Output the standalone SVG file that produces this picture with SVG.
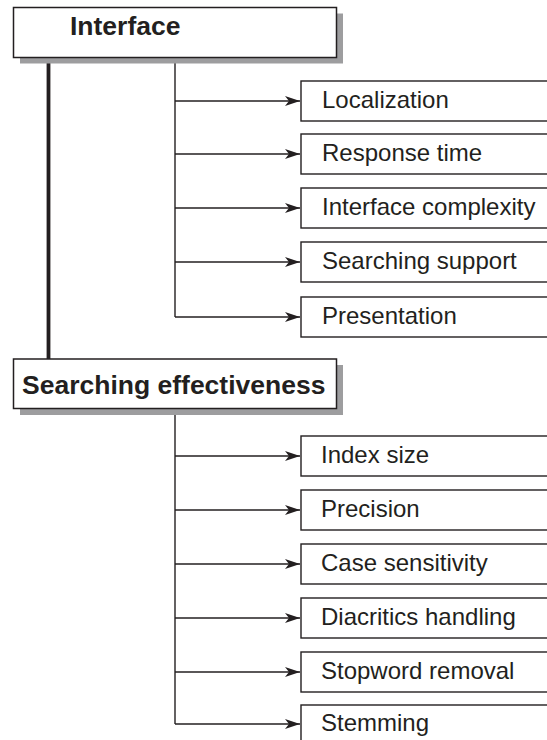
<svg xmlns="http://www.w3.org/2000/svg" width="547" height="740" viewBox="0 0 547 740">
  <style>
    .bg { fill: #ffffff; }
    .main-box { fill: #ffffff; stroke: #231f20; stroke-width: 1.5; }
    .shadow { fill: #9d9d9f; }
    .item-box { fill: #ffffff; stroke: #231f20; stroke-width: 1.4; }
    .main-label { font-family: "Liberation Sans", Arial, sans-serif; font-weight: bold; font-size: 26.5px; fill: #231f20; }
    .item-label { font-family: "Liberation Sans", Arial, sans-serif; font-size: 24px; fill: #231f20; }
    .wire { fill: none; stroke: #231f20; stroke-width: 1.4; }
    .trunk { fill: none; stroke: #231f20; stroke-width: 3.8; }
  </style>
  <defs>
    <marker id="arrow" markerUnits="userSpaceOnUse" markerWidth="18" markerHeight="14" refX="15" refY="6" orient="auto">
      <path d="M0,1 L15,6 L0,11 L4,6 Z" fill="#231f20"/>
    </marker>
  </defs>
  <rect class="bg" x="0" y="0" width="547" height="740"/>

  <!-- connectors -->
  <g id="connectors">
    <line class="trunk" x1="48.5" y1="57" x2="48.5" y2="359"/>
    <path class="wire" d="M175,57 V317"/>
    <line class="wire" x1="175" y1="101" x2="300" y2="101" marker-end="url(#arrow)"/>
    <line class="wire" x1="175" y1="154" x2="300" y2="154" marker-end="url(#arrow)"/>
    <line class="wire" x1="175" y1="208" x2="300" y2="208" marker-end="url(#arrow)"/>
    <line class="wire" x1="175" y1="262" x2="300" y2="262" marker-end="url(#arrow)"/>
    <line class="wire" x1="175" y1="317" x2="300" y2="317" marker-end="url(#arrow)"/>
    <path class="wire" d="M175,408 V724"/>
    <line class="wire" x1="175" y1="456" x2="300" y2="456" marker-end="url(#arrow)"/>
    <line class="wire" x1="175" y1="510" x2="300" y2="510" marker-end="url(#arrow)"/>
    <line class="wire" x1="175" y1="564" x2="300" y2="564" marker-end="url(#arrow)"/>
    <line class="wire" x1="175" y1="618" x2="300" y2="618" marker-end="url(#arrow)"/>
    <line class="wire" x1="175" y1="672" x2="300" y2="672" marker-end="url(#arrow)"/>
    <line class="wire" x1="175" y1="724" x2="300" y2="724" marker-end="url(#arrow)"/>
  </g>

  <!-- top-level categories -->
  <g id="interface">
    <rect class="shadow" x="20" y="13.5" width="323" height="50"/>
    <rect class="main-box" x="13.5" y="7.5" width="323" height="50"/>
    <text class="main-label" x="70" y="35">Interface</text>
  </g>
  <g id="searching-effectiveness">
    <rect class="shadow" x="20" y="365" width="323" height="50"/>
    <rect class="main-box" x="13.5" y="359" width="323" height="49.5"/>
    <text class="main-label" x="22" y="394">Searching effectiveness</text>
  </g>

  <!-- interface criteria -->
  <g id="localization">
    <rect class="item-box" x="301" y="81" width="260" height="40"/>
    <text class="item-label" x="322" y="108">Localization</text>
  </g>
  <g id="response-time">
    <rect class="item-box" x="301" y="134" width="260" height="40"/>
    <text class="item-label" x="322" y="161">Response time</text>
  </g>
  <g id="interface-complexity">
    <rect class="item-box" x="301" y="188" width="260" height="40"/>
    <text class="item-label" x="322" y="215">Interface complexity</text>
  </g>
  <g id="searching-support">
    <rect class="item-box" x="301" y="242" width="260" height="40"/>
    <text class="item-label" x="322" y="269">Searching support</text>
  </g>
  <g id="presentation">
    <rect class="item-box" x="301" y="297" width="260" height="40"/>
    <text class="item-label" x="322" y="324">Presentation</text>
  </g>

  <!-- effectiveness criteria -->
  <g id="index-size">
    <rect class="item-box" x="301" y="436" width="260" height="40"/>
    <text class="item-label" x="321" y="463">Index size</text>
  </g>
  <g id="precision">
    <rect class="item-box" x="301" y="490" width="260" height="40"/>
    <text class="item-label" x="321" y="517">Precision</text>
  </g>
  <g id="case-sensitivity">
    <rect class="item-box" x="301" y="544" width="260" height="40"/>
    <text class="item-label" x="321" y="571">Case sensitivity</text>
  </g>
  <g id="diacritics-handling">
    <rect class="item-box" x="301" y="598" width="260" height="40"/>
    <text class="item-label" x="321" y="625">Diacritics handling</text>
  </g>
  <g id="stopword-removal">
    <rect class="item-box" x="301" y="652" width="260" height="40"/>
    <text class="item-label" x="321" y="679">Stopword removal</text>
  </g>
  <g id="stemming">
    <rect class="item-box" x="301" y="705" width="260" height="60"/>
    <text class="item-label" x="321" y="731">Stemming</text>
  </g>
</svg>
